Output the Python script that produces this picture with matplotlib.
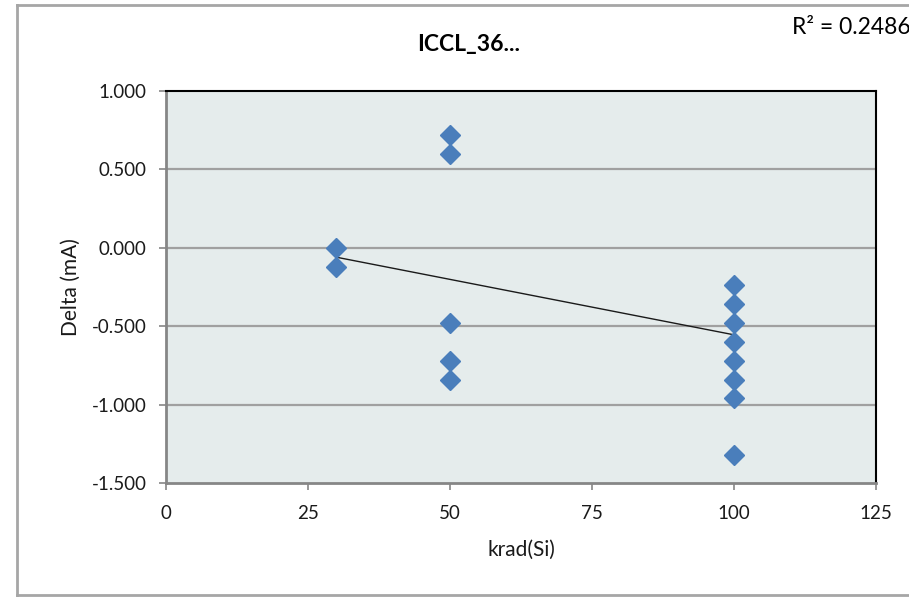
import matplotlib
matplotlib.use("Agg")
import matplotlib.pyplot as plt
from matplotlib.lines import Line2D

plt.rcParams['font.family'] = ['Lato', 'DejaVu Sans']

# Measurements: dose (krad(Si)) and current delta (mA)
dose = [30, 30, 50, 50, 50, 50, 50, 100, 100, 100, 100, 100, 100, 100, 100]
delta = [0.00, -0.12, 0.72, 0.60, -0.48, -0.72, -0.84,
         -0.24, -0.36, -0.48, -0.60, -0.72, -0.84, -0.96, -1.32]

# Linear trendline endpoints and its fit quality
trend_x = [30, 100]
trend_y = [-0.06, -0.555]
r_squared = 0.2486

title = "ICCL_36..."
x_ticks = [0, 25, 50, 75, 100, 125]
y_ticks = [-1.5, -1.0, -0.5, 0.0, 0.5, 1.0]

W, H = 909, 597
fig = plt.figure(figsize=(W / 100, H / 100), dpi=100)
fig.patch.set_facecolor('white')

ax = fig.add_axes([166 / W, 1 - 483 / H, (876 - 166) / W, (483 - 91) / H])
ax.set_facecolor('#E5ECEC')
ax.set_xlim(0, 125)
ax.set_ylim(-1.5, 1.0)
ax.set_xticks(x_ticks)
ax.set_yticks(y_ticks)
ax.set_yticklabels([f"{v:.3f}" for v in y_ticks])

for v in [-1.0, -0.5, 0.0, 0.5]:
    ax.axhline(v, color='#A0A0A0', lw=1.6, zorder=1)

ax.plot(trend_x, trend_y, color='#1A1A1A', lw=1.0, zorder=2)
ax.plot(dose, delta, linestyle='none', marker='D', markersize=10.5,
        color='#4A7EBB', markeredgecolor='#4A7EBB', zorder=3, clip_on=False)

for side in ('left', 'bottom'):
    ax.spines[side].set_color('#868686')
    ax.spines[side].set_linewidth(2.0)
for side in ('top', 'right'):
    ax.spines[side].set_color('black')
    ax.spines[side].set_linewidth(1.5)

ax.tick_params(axis='both', direction='out', length=5, width=1.2,
               color='#868686', labelsize=13.5, labelcolor='#1A1A1A')
ax.tick_params(axis='y', pad=9)
ax.tick_params(axis='x', pad=11)

ax.set_xlabel("krad(Si)", fontsize=15, labelpad=13, color='#1A1A1A')
ax.set_ylabel("Delta (mA)", fontsize=15, labelpad=8, color='#1A1A1A')

fig.text(469 / W, 1 - 45 / H, title, fontsize=16.5, fontweight='bold',
         ha='center', va='center')
fig.text(792 / W, 1 - 27 / H, f"R² = {r_squared:.4f}", fontsize=16.5,
         ha='left', va='center')

# Chart-area frame (continues past the right edge)
frame = dict(color='#A6A6A6', lw=2.0, transform=fig.transFigure)
fig.add_artist(Line2D([17 / W, 1.0], [1 - 5 / H, 1 - 5 / H], **frame))
fig.add_artist(Line2D([17 / W, 1.0], [1 - 595 / H, 1 - 595 / H], **frame))
fig.add_artist(Line2D([17 / W, 17 / W], [1 - 5 / H, 1 - 595 / H], **frame))

fig.savefig("out.png", dpi=100)
